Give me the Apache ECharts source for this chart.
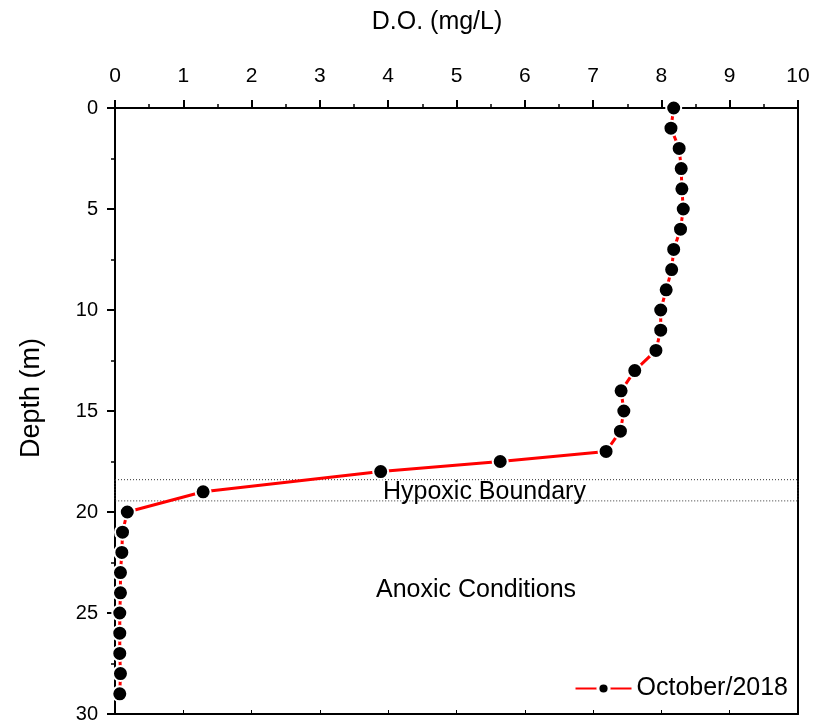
<!DOCTYPE html>
<html><head><meta charset="utf-8">
<script src="https://cdn.jsdelivr.net/npm/echarts@6/dist/echarts.min.js"></script>
<style>html,body{margin:0;padding:0;background:#fff}#c{width:825px;height:724px}</style>
</head><body><div id="c"></div>
<script>
const depths = [0,1,2,3,4,5,6,7,8,9,10,11,12,13,14,15,16,17,17.5,18,19,20,21,22,23,24,25,26,27,28,29];
const doValues = [8.18,8.14,8.26,8.29,8.30,8.32,8.28,8.18,8.15,8.07,7.99,7.99,7.92,7.61,7.41,7.45,7.40,7.19,5.64,3.89,1.29,0.18,0.11,0.10,0.08,0.08,0.07,0.07,0.07,0.08,0.07];
const seriesName = 'October/2018';
const hypoxicRange = [18.4, 19.45];
const xTitle = 'D.O. (mg/L)';
const yTitle = 'Depth (m)';

const font = 'Liberation Sans, Arial, sans-serif';
const chart = echarts.init(document.getElementById('c'));
chart.setOption({
  animation: false,
  grid: {left: 115, right: 27, top: 108, bottom: 9},
  xAxis: [{
    type: 'value', position: 'top', min: 0, max: 10, interval: 1,
    axisLine: {show: true, onZero: false, lineStyle: {color: '#000', width: 2}},
    axisTick: {show: true, length: 8, lineStyle: {color: '#000', width: 2}},
    minorTick: {show: true, splitNumber: 2, length: 4, lineStyle: {color: '#000', width: 1.5}},
    axisLabel: {fontFamily: font, fontSize: 21, color: '#000', margin: 21},
    splitLine: {show: false}
  }, {
    type: 'value', position: 'bottom', min: 0, max: 10, interval: 1,
    axisLine: {show: true, onZero: false, lineStyle: {color: '#000', width: 2}},
    axisTick: {show: true, inside: true, length: 4, lineStyle: {color: '#000', width: 1}},
    axisLabel: {show: false}, splitLine: {show: false}
  }],
  yAxis: [{
    type: 'value', inverse: true, min: 0, max: 30, interval: 5,
    axisLine: {show: true, onZero: false, lineStyle: {color: '#000', width: 2}},
    axisTick: {show: true, length: 8, lineStyle: {color: '#000', width: 2}},
    minorTick: {show: true, splitNumber: 2, length: 4, lineStyle: {color: '#000', width: 1.5}},
    axisLabel: {fontFamily: font, fontSize: 20, color: '#000', margin: 17},
    splitLine: {show: false}
  }, {
    type: 'value', position: 'right', inverse: true, min: 0, max: 30, interval: 5,
    axisLine: {show: true, onZero: false, lineStyle: {color: '#000', width: 2}},
    axisTick: {show: false}, axisLabel: {show: false}, splitLine: {show: false}
  }],
  legend: {
    right: 32, bottom: 18, itemWidth: 56, itemHeight: 14, itemGap: 8,
    textStyle: {fontFamily: font, fontSize: 25, color: '#000'},
    itemStyle: {borderColor: '#fff', borderWidth: 3},
    data: [seriesName]
  },
  series: [{
    name: seriesName, type: 'line', xAxisIndex: 0, yAxisIndex: 0,
    data: doValues.map((v, i) => [v, depths[i]]),
    symbol: 'circle', symbolSize: 15,
    lineStyle: {color: '#ff0000', width: 3},
    itemStyle: {color: '#000', borderColor: '#fff', borderWidth: 2},
    markArea: {
      silent: true,
      itemStyle: {color: 'rgba(0,0,0,0)', borderColor: '#333', borderWidth: 1, borderType: [1, 2]},
      label: {show: false},
      data: [[{xAxis: 0, yAxis: hypoxicRange[0]}, {xAxis: 10, yAxis: hypoxicRange[1]}]]
    },
    z: 3
  }],
  graphic: [
    {type: 'text', x: 437, y: 22, z: 10, style: {text: xTitle, fontFamily: font, fontSize: 25, fill: '#000', align: 'center', verticalAlign: 'middle'}},
    {type: 'text', x: 32, y: 398, rotation: Math.PI / 2, z: 10, style: {text: yTitle, fontFamily: font, fontSize: 27, fill: '#000', align: 'center', verticalAlign: 'middle'}},
    {type: 'text', x: 383, y: 492, z: 10, style: {text: 'Hypoxic Boundary', fontFamily: font, fontSize: 25, fill: '#000', align: 'left', verticalAlign: 'middle'}},
    {type: 'text', x: 376, y: 590, z: 10, style: {text: 'Anoxic Conditions', fontFamily: font, fontSize: 25, fill: '#000', align: 'left', verticalAlign: 'middle'}}
  ]
});
</script></body></html>
